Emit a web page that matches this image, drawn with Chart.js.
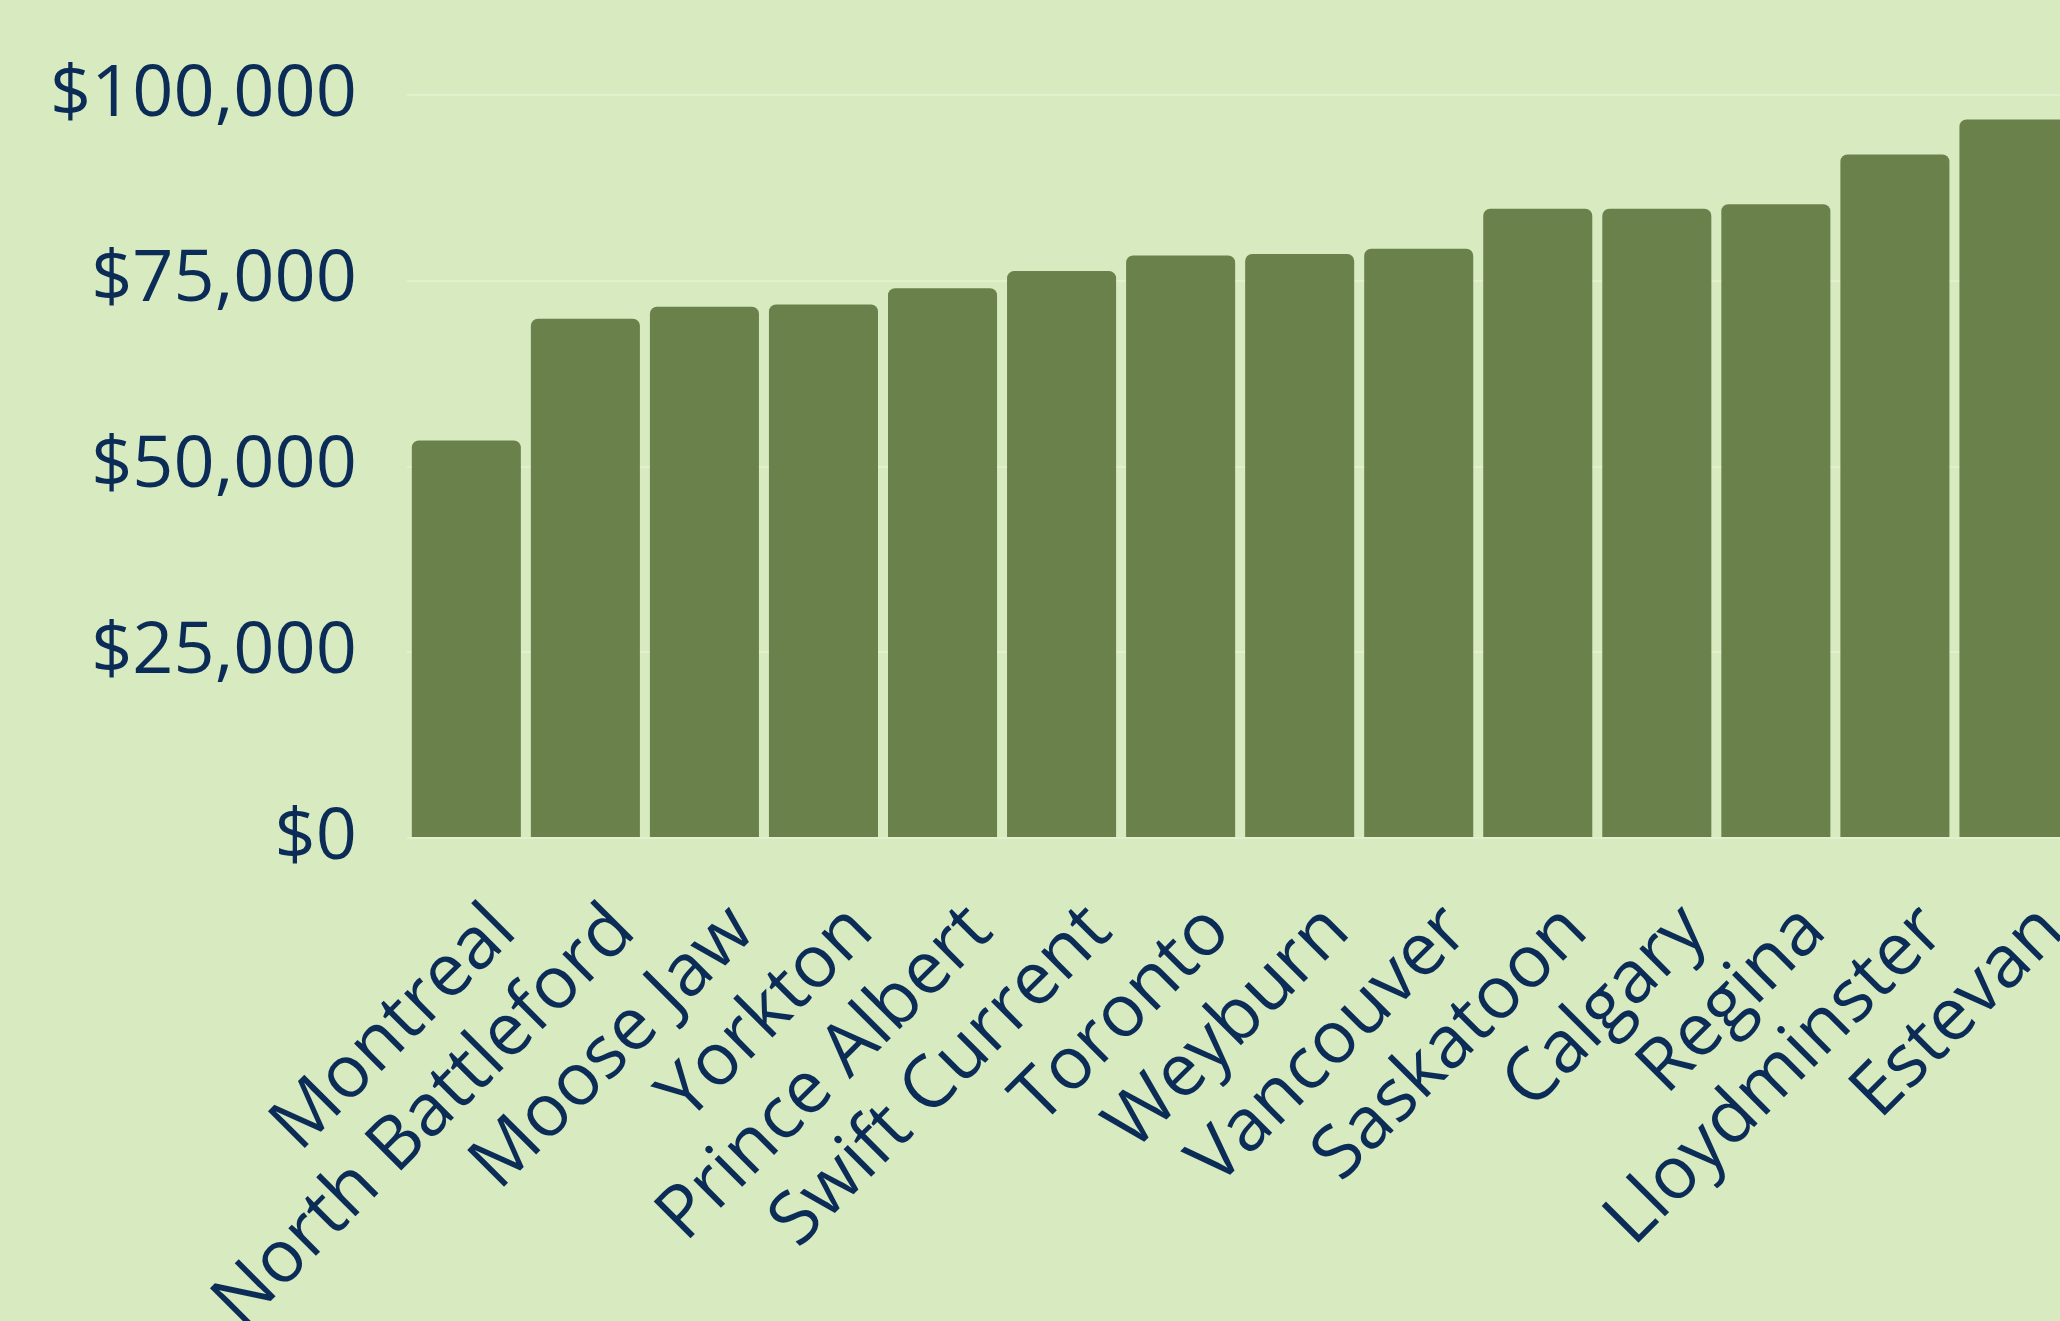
<!DOCTYPE html>
<html>
<head>
<meta charset="utf-8">
<title>Median income by city</title>
<script src="https://cdn.jsdelivr.net/npm/chart.js@4/dist/chart.umd.min.js"></script>
<style>
    html, body { margin: 0; padding: 0; overflow: hidden; background: #d8eac0; }
    #wrap { position: absolute; left: 0; top: 0; width: 2118px; height: 1340px; }
</style>
</head>
<body>
<div id="wrap"><canvas id="incomeChart"></canvas></div>
<script>
// cities, sorted from lowest to highest
const cities = [
    "Montreal", "North Battleford", "Moose Jaw", "Yorkton", "Prince Albert",
    "Swift Current", "Toronto", "Weyburn", "Vancouver", "Saskatoon",
    "Calgary", "Regina", "Lloydminster", "Estevan"
];

// values
const incomes = [
    53500, 69900, 71500, 71800, 74000,
    76300, 78400, 78600, 79300, 84700,
    84700, 85300, 92000, 96700
];

// y axis ticks
const yTicks = [0, 25000, 50000, 75000, 100000];

const NAVY = '#0b2c57';
const BAR_GREEN = '#6a814b';

document.addEventListener("DOMContentLoaded", () => {
    const ctx = document.getElementById('incomeChart').getContext('2d');

    new Chart(ctx, {
        type: 'bar',
        data: {
            labels: cities,
            datasets: [{
                data: incomes,
                backgroundColor: BAR_GREEN,
                borderRadius: 7,
                barPercentage: 0.916,
                categoryPercentage: 1.0
            }]
        },
        options: {
            responsive: true,
            maintainAspectRatio: false,
            animation: false,
            devicePixelRatio: 1,
            layout: { padding: { left: 0, top: 95, right: 3, bottom: 0 } },
            plugins: {
                legend: { display: false },
                tooltip: { enabled: false }
            },
            scales: {
                x: {
                    grid: { display: false },
                    border: { display: false },
                    ticks: {
                        color: NAVY,
                        font: { family: 'Open Sans', size: 73 },
                        maxRotation: 45,
                        minRotation: 45,
                        autoSkip: false,
                        padding: 42,
                        labelOffset: 38
                    },
                    afterFit: (axis) => { axis.height = 502; }
                },
                y: {
                    min: yTicks[0],
                    max: yTicks[yTicks.length - 1],
                    afterBuildTicks: (axis) => { axis.ticks = yTicks.map(v => ({ value: v })); },
                    grid: { color: 'rgba(240, 248, 225, 0.45)', lineWidth: 2, drawTicks: false },
                    border: { display: false },
                    ticks: {
                        color: NAVY,
                        font: { family: 'Open Sans', size: 72 },
                        padding: 50,
                        callback: (v) => '$' + Number(v).toLocaleString('en-US')
                    }
                }
            }
        }
    });
});
</script>
</body>
</html>
